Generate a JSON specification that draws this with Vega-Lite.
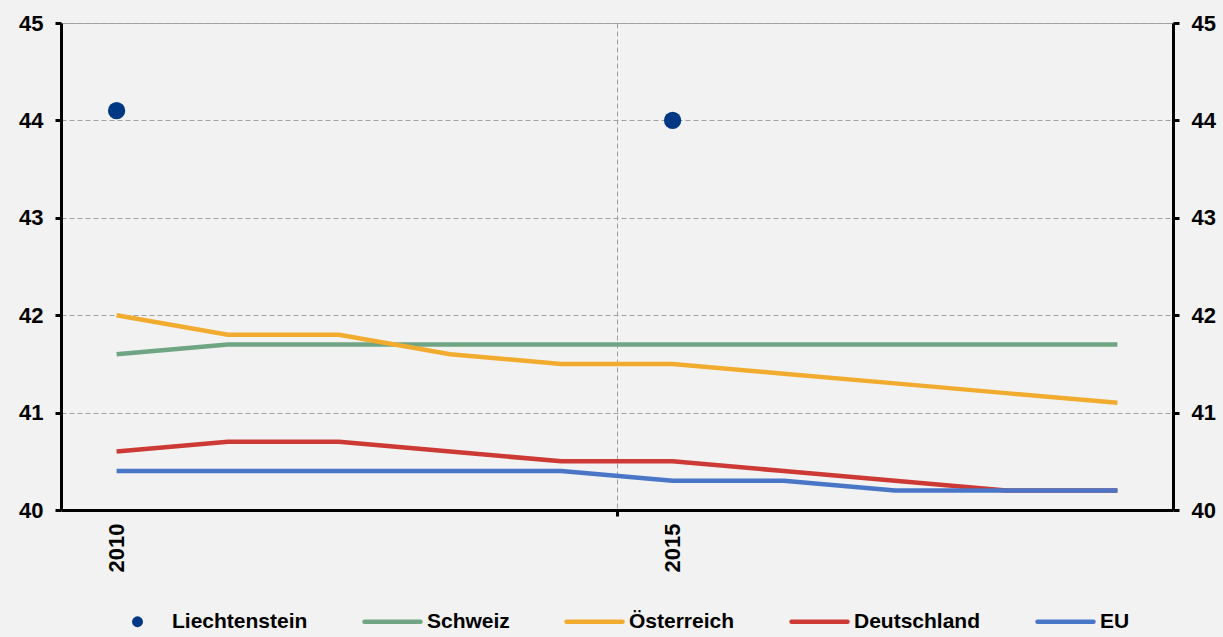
{
  "$schema": "https://vega.github.io/schema/vega-lite/v6.json",
  "width": 1112,
  "height": 487,
  "autosize": {"type": "none"},
  "padding": {"left": 61, "top": 23, "right": 50, "bottom": 127},
  "background": "#f2f2f2",
  "config": {
    "font": "Liberation Sans",
    "view": {"stroke": "#a6a6a6", "strokeWidth": 1, "fill": null}
  },
  "data": {
    "values": [
      {"year": 2010, "series": "Liechtenstein", "value": 44.1},
      {"year": 2015, "series": "Liechtenstein", "value": 44.0},
      {"year": 2010, "series": "Schweiz", "value": 41.6},
      {"year": 2011, "series": "Schweiz", "value": 41.7},
      {"year": 2012, "series": "Schweiz", "value": 41.7},
      {"year": 2013, "series": "Schweiz", "value": 41.7},
      {"year": 2014, "series": "Schweiz", "value": 41.7},
      {"year": 2015, "series": "Schweiz", "value": 41.7},
      {"year": 2016, "series": "Schweiz", "value": 41.7},
      {"year": 2017, "series": "Schweiz", "value": 41.7},
      {"year": 2018, "series": "Schweiz", "value": 41.7},
      {"year": 2019, "series": "Schweiz", "value": 41.7},
      {"year": 2010, "series": "Österreich", "value": 42.0},
      {"year": 2011, "series": "Österreich", "value": 41.8},
      {"year": 2012, "series": "Österreich", "value": 41.8},
      {"year": 2013, "series": "Österreich", "value": 41.6},
      {"year": 2014, "series": "Österreich", "value": 41.5},
      {"year": 2015, "series": "Österreich", "value": 41.5},
      {"year": 2016, "series": "Österreich", "value": 41.4},
      {"year": 2017, "series": "Österreich", "value": 41.3},
      {"year": 2018, "series": "Österreich", "value": 41.2},
      {"year": 2019, "series": "Österreich", "value": 41.1},
      {"year": 2010, "series": "Deutschland", "value": 40.6},
      {"year": 2011, "series": "Deutschland", "value": 40.7},
      {"year": 2012, "series": "Deutschland", "value": 40.7},
      {"year": 2013, "series": "Deutschland", "value": 40.6},
      {"year": 2014, "series": "Deutschland", "value": 40.5},
      {"year": 2015, "series": "Deutschland", "value": 40.5},
      {"year": 2016, "series": "Deutschland", "value": 40.4},
      {"year": 2017, "series": "Deutschland", "value": 40.3},
      {"year": 2018, "series": "Deutschland", "value": 40.2},
      {"year": 2019, "series": "Deutschland", "value": 40.2},
      {"year": 2010, "series": "EU", "value": 40.4},
      {"year": 2011, "series": "EU", "value": 40.4},
      {"year": 2012, "series": "EU", "value": 40.4},
      {"year": 2013, "series": "EU", "value": 40.4},
      {"year": 2014, "series": "EU", "value": 40.4},
      {"year": 2015, "series": "EU", "value": 40.3},
      {"year": 2016, "series": "EU", "value": 40.3},
      {"year": 2017, "series": "EU", "value": 40.2},
      {"year": 2018, "series": "EU", "value": 40.2},
      {"year": 2019, "series": "EU", "value": 40.2}
    ]
  },
  "encoding": {
    "x": {
      "field": "year",
      "type": "quantitative",
      "scale": {"domain": [2009.5, 2019.5], "nice": false, "zero": false},
      "axis": {
        "title": null,
        "values": [2010, 2014.5, 2015],
        "format": "d",
        "labelExpr": "datum.value === 2014.5 ? '' : datum.label",
        "labelAngle": -90,
        "labelFontSize": 22,
        "labelFontWeight": "bold",
        "labelColor": "#000000",
        "labelPadding": 7,
        "labelFlush": false,
        "labelOverlap": false,
        "domainColor": "#000000",
        "domainWidth": 3,
        "tickColor": "#000000",
        "tickWidth": 3,
        "tickSize": 6,
        "tickOpacity": {"condition": {"test": "datum.value === 2014.5", "value": 1}, "value": 0},
        "grid": true,
        "gridColor": "#a0a0a0",
        "gridDash": [5, 3],
        "gridWidth": 1,
        "gridOpacity": {"condition": {"test": "datum.value === 2014.5", "value": 1}, "value": 0},
        "encode": {"ticks": {"update": {"y": {"value": -7}}}}
      }
    },
    "color": {
      "field": "series",
      "type": "nominal",
      "scale": {
        "domain": ["Liechtenstein", "Schweiz", "Österreich", "Deutschland", "EU"],
        "range": ["#003883", "#70a584", "#f1ac2f", "#cd3a35", "#4a76c7"]
      },
      "legend": {
        "title": null,
        "orient": "none",
        "direction": "horizontal",
        "legendX": 66,
        "legendY": 588,
        "padding": 0,
        "symbolType": "stroke",
        "symbolSize": 3136,
        "symbolStrokeWidth": 4.5,
        "labelFontSize": 21,
        "labelFontWeight": "bold",
        "labelColor": "#000000",
        "labelOffset": 24,
        "columnPadding": 47,
        "encode": {
          "symbols": {
            "update": {
              "shape": {"signal": "datum.value === 'Liechtenstein' ? 'circle' : 'stroke'"},
              "size": {"signal": "datum.value === 'Liechtenstein' ? 120 : 3136"},
              "fill": {"scale": "color", "field": "value"},
              "fillOpacity": {"value": 1},
              "stroke": {"scale": "color", "field": "value"},
              "strokeWidth": {"signal": "datum.value === 'Liechtenstein' ? 0 : 4.5"},
              "strokeCap": {"value": "round"}
            }
          }
        }
      }
    }
  },
  "layer": [
    {
      "transform": [{"filter": "datum.series !== 'Liechtenstein'"}],
      "mark": {"type": "line", "strokeWidth": 4.5},
      "encoding": {
        "y": {
          "field": "value",
          "type": "quantitative",
          "scale": {"domain": [40, 45], "nice": false, "zero": false},
          "axis": {
            "orient": "right",
            "title": null,
            "values": [40, 41, 42, 43, 44, 45],
            "grid": false,
            "labelFontSize": 22,
            "labelFontWeight": "bold",
            "labelColor": "#000000",
            "labelPadding": 12,
            "domainColor": "#000000",
            "domainWidth": 3,
            "tickColor": "#000000",
            "tickWidth": 3,
            "tickSize": 6,
            "encode": {"ticks": {"update": {"x": {"value": -7}}}}
          }
        }
      }
    },
    {
      "transform": [{"filter": "datum.series === 'Liechtenstein'"}],
      "mark": {"type": "point", "filled": true, "size": 300, "opacity": 1},
      "encoding": {
        "y": {
          "field": "value",
          "type": "quantitative",
          "scale": {"domain": [40, 45], "nice": false, "zero": false},
          "axis": {
            "orient": "left",
            "title": null,
            "values": [40, 41, 42, 43, 44, 45],
            "grid": true,
            "gridColor": "#a0a0a0",
            "gridDash": [5, 3],
            "gridWidth": 1,
            "labelFontSize": 22,
            "labelFontWeight": "bold",
            "labelColor": "#000000",
            "labelPadding": 12,
            "domainColor": "#000000",
            "domainWidth": 3,
            "tickColor": "#000000",
            "tickWidth": 3,
            "tickSize": 6,
            "encode": {"ticks": {"update": {"x": {"value": 7}}}}
          }
        }
      }
    }
  ],
  "resolve": {"axis": {"y": "independent"}}
}
